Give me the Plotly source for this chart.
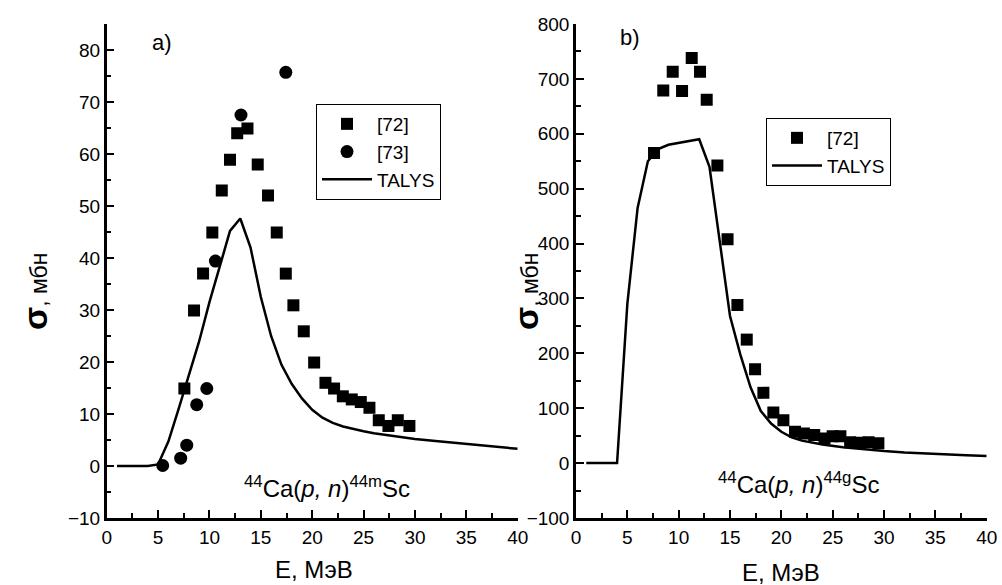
import plotly.graph_objects as go

# ---------- Panel a) 44Ca(p,n)44mSc ----------
a72_E = [7.56, 8.5, 9.38, 10.28, 11.2, 12.0, 12.7, 13.7, 14.7, 15.7, 16.55, 17.43,
         18.17, 19.18, 20.19, 21.29, 22.13, 22.98, 23.85, 24.73, 25.57, 26.48,
         27.42, 28.33, 29.46]
a72_sigma = [14.9, 29.9, 37.0, 44.9, 53.0, 58.9, 64.0, 64.9, 58.0, 52.0, 44.9, 37.0,
             30.9, 25.9, 19.9, 16.0, 14.9, 13.4, 12.8, 12.3, 11.2, 8.8, 7.7, 8.8, 7.7]
a73_E = [5.45, 7.2, 7.79, 8.76, 9.74, 10.58, 13.07, 17.43]
a73_sigma = [0.1, 1.5, 4.0, 11.8, 14.9, 39.4, 67.5, 75.7]
aT_E = [1, 2, 3, 4, 5, 6, 7, 8, 9, 10, 11, 12, 13, 14, 15, 16, 17, 18, 19, 20,
        21, 22, 23, 24, 25, 26, 28, 30, 32, 34, 36, 38, 40]
aT_sigma = [0, 0, 0, 0, 0.3, 4.7, 11, 17.5, 24, 31.5, 38.5, 45.2, 47.6, 42, 32.5,
            25, 19.5, 15.8, 13, 10.8, 9.3, 8.3, 7.6, 7.1, 6.7, 6.3, 5.7, 5.2, 4.8,
            4.4, 4.0, 3.65, 3.3]

# ---------- Panel b) 44Ca(p,n)44gSc ----------
b72_E = [7.6, 8.5, 9.42, 10.33, 11.27, 12.08, 12.73, 13.77, 14.76, 15.72, 16.63,
         17.44, 18.25, 19.22, 20.2, 21.33, 22.2, 23.2, 24.2, 25.0, 25.75, 26.7,
         27.6, 28.5, 29.45]
b72_sigma = [565, 679, 713, 678, 738, 713, 662, 542, 408, 288, 225, 171, 128, 92,
             78, 57, 54, 51, 45, 49, 49, 38, 37, 38, 36]
bT_E = [1, 2, 3, 4, 5, 6, 7, 8, 9, 10, 11, 12, 13, 14, 15, 16, 17, 18, 19, 20,
        21, 22, 24, 26, 28, 30, 32, 34, 36, 38, 40]
bT_sigma = [0, 0, 0, 0, 290, 465, 550, 572, 580, 583, 586, 590, 540, 405, 268, 198,
            138, 95, 72, 57, 47, 41, 34, 29, 25, 22, 19.5, 17.5, 15.5, 14.5, 13]

x_ticks = [0, 5, 10, 15, 20, 25, 30, 35, 40]
a_y_ticks = [-10, 0, 10, 20, 30, 40, 50, 60, 70, 80]
b_y_ticks = [-100, 0, 100, 200, 300, 400, 500, 600, 700, 800]

FONT = "Liberation Sans, Arial, sans-serif"
W, H = 1002, 585

fig = go.Figure()
fig.add_trace(go.Scatter(x=a72_E, y=a72_sigma, mode="markers", name="[72]",
                         marker=dict(symbol="square", size=12, color="black"),
                         xaxis="x", yaxis="y", legend="legend"))
fig.add_trace(go.Scatter(x=a73_E, y=a73_sigma, mode="markers", name="[73]",
                         marker=dict(symbol="circle", size=13, color="black"),
                         xaxis="x", yaxis="y", legend="legend"))
fig.add_trace(go.Scatter(x=aT_E, y=aT_sigma, mode="lines", name="TALYS",
                         line=dict(color="black", width=2.5),
                         xaxis="x", yaxis="y", legend="legend"))
fig.add_trace(go.Scatter(x=b72_E, y=b72_sigma, mode="markers", name="[72]",
                         marker=dict(symbol="square", size=12, color="black"),
                         xaxis="x2", yaxis="y2", legend="legend2"))
fig.add_trace(go.Scatter(x=bT_E, y=bT_sigma, mode="lines", name="TALYS",
                         line=dict(color="black", width=2.5),
                         xaxis="x2", yaxis="y2", legend="legend2"))

ydom = [(H - 518) / H, (H - 24) / H]
ax_common = dict(showline=True, linecolor="black", linewidth=2.5, showgrid=False,
                 zeroline=False, ticks="inside", ticklen=8, tickwidth=2,
                 tickcolor="black", automargin=False,
                 tickfont=dict(family=FONT, size=19, color="black"))
minor_common = dict(ticks="inside", ticklen=5, tick0=0, tickcolor="black", tickwidth=2)

fig.update_layout(
    width=W, height=H,
    margin=dict(l=0, r=0, t=0, b=0),
    paper_bgcolor="white", plot_bgcolor="white",
    font=dict(family=FONT, color="black"),
    xaxis=dict(domain=[106.7 / W, 517.7 / W], range=[0, 40], tickvals=x_ticks,
               minor=dict(dtick=2.5, **minor_common), anchor="y", **ax_common),
    yaxis=dict(domain=ydom, range=[-10, 85], tickvals=a_y_ticks,
               minor=dict(dtick=5, **minor_common), anchor="x", **ax_common),
    xaxis2=dict(domain=[576 / W, 986.7 / W], range=[0, 40], tickvals=x_ticks,
                minor=dict(dtick=2.5, **minor_common), anchor="y2", **ax_common),
    yaxis2=dict(domain=ydom, range=[-100, 800], tickvals=b_y_ticks,
                minor=dict(dtick=50, **minor_common), anchor="x2", **ax_common),
    legend=dict(x=316 / W, y=1 - 104 / H, xanchor="left", yanchor="top",
                bordercolor="black", borderwidth=1, bgcolor="white",
                font=dict(family=FONT, size=19, color="black"),
                tracegroupgap=0, itemwidth=50),
    legend2=dict(x=766 / W, y=1 - 118 / H, xanchor="left", yanchor="top",
                 bordercolor="black", borderwidth=1, bgcolor="white",
                 font=dict(family=FONT, size=19, color="black"),
                 tracegroupgap=0, itemwidth=50),
    showlegend=True,
)

ann = [
    dict(text="a)", x=162 / W, y=1 - 43 / H, font=dict(size=22)),
    dict(text="b)", x=630 / W, y=1 - 38 / H, font=dict(size=22)),
    dict(text="<sup>44</sup>Ca(<i>p, n</i>)<sup>44m</sup>Sc", x=327 / W, y=1 - 487 / H,
         font=dict(size=24)),
    dict(text="<sup>44</sup>Ca(<i>p, n</i>)<sup>44g</sup>Sc", x=798 / W, y=1 - 483 / H,
         font=dict(size=24)),
    dict(text="E, МэВ", x=314 / W, y=1 - 569 / H, font=dict(size=24)),
    dict(text="E, МэВ", x=781 / W, y=1 - 572 / H, font=dict(size=24)),
    dict(text="<span style='font-size:34px'><b>σ</b></span>, мбн", x=35 / W,
         y=1 - 292 / H, textangle=-90, font=dict(size=23)),
    dict(text="<span style='font-size:34px'><b>σ</b></span>, мбн", x=526 / W,
         y=1 - 292 / H, textangle=-90, font=dict(size=23)),
]
for a in ann:
    a.update(xref="paper", yref="paper", showarrow=False, xanchor="center",
             yanchor="middle")
    a["font"].update(family=FONT, color="black")
    fig.add_annotation(**a)

fig.write_html("out.html")
